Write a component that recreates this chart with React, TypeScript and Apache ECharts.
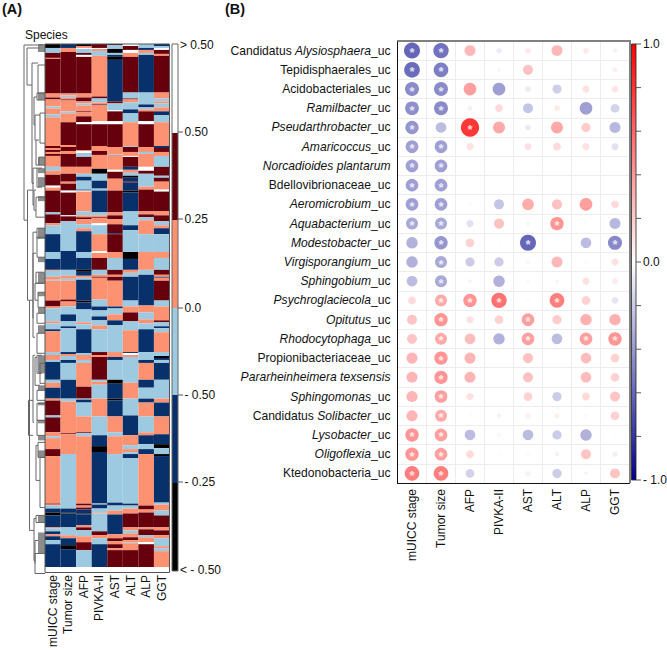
import React, { useEffect, useRef } from "react";
import * as echarts from "echarts";

const FONT = '"Liberation Sans", Arial, sans-serif';

// ---------- Panel A data ----------
const clinicalVars = ["mUICC stage", "Tumor size", "AFP", "PIVKA-II", "AST", "ALT", "ALP", "GGT"];
const levelColors: Record<string, string> = { K: "#000000", N: "#08306b", B: "#9ecae1", S: "#fc9272", M: "#67000d", W: "#ffffff" };
// each run: level letter + row where the run ends
const runsMuicc = "K48 B53 M58 S59 M94 S98 M100 S107 B109 S115 B118 S147 M149 S151 M153 S155 M157 S168 B172 S176 M187 W189 S192 M214 B216 M225 S227 B236 N254 B261 N272 S273 B279 S282 B283 S303 M309 S311 B324 S326 B332 N334 S355 B358 S363 B365 N383 B386 S391 N402 S404 M419 B421 M436 S440 B442 S453 M460 S508 M509 S510 B513 N517 K520 N532 S533 B536 N539 S541 N545 B549 N572";
const runsTumor = "N48 S52 M94 S96 B98 S100 M101 S112 B114 S123 M146 S148 M152 S155 M168 S175 M183 S185 M192 W194 M217 W218 M223 B253 N272 B278 S281 B283 S302 M304 S309 B317 N324 B329 N331 B355 N357 S359 B363 N366 B383 N402 B405 S437 M438 S458 B513 N517 K518 N532 B540 S543 N550 K554 N572";
const runsAfp = "K46 S48 W49 B53 M55 W57 M94 S98 M102 S104 B106 S112 M113 S117 M123 W125 M151 S152 W154 B158 M168 S175 B178 N182 B191 N192 W193 S213 B217 S219 M221 S226 B230 S233 N254 B260 N272 K274 N278 S280 B282 N303 K305 N312 B325 S327 B332 N356 B358 S363 B366 S390 M402 B403 N406 B420 S436 M437 B440 S508 M510 S512 M514 N518 K519 N530 S532 M535 B541 S547 M555 B572";
const runsPivka = "M48 W49 S51 B56 S97 M99 B103 S105 M106 S122 W125 M147 S152 M156 S170 K175 B182 N190 B192 N214 B217 S219 M220 S225 W227 B236 S253 W255 S260 M272 B277 S279 M280 S302 B309 N313 B319 N323 B328 S332 B355 M358 S360 M383 B385 S388 B402 S420 B439 N450 K456 N508 B509 N513 B517 S518 B536 M540 S543 B549 N572";
const runsAst = "M45 B49 K53 B55 N57 K60 N102 M104 B111 W112 M122 W125 M148 S155 B156 S171 W173 M180 S192 M214 S217 M221 S226 M235 N236 M254 S260 B272 M277 S279 M283 S309 N311 B317 S323 N328 B355 S360 N363 B383 K387 N402 K404 N420 S436 B440 S458 B507 N510 B515 S519 N539 S543 M546 S549 M553 S555 M572";
const runsAlt = "W46 M50 W53 S57 M93 B99 M100 S103 B110 N114 B123 S147 B148 M153 S157 W158 M168 N171 S174 B177 K179 N183 M184 N192 K194 N213 B227 N232 B254 K261 N272 S275 B279 N303 B309 S315 M324 B333 S355 N356 W358 S360 B386 S402 B419 N439 S449 B453 S456 B458 N462 B508 N510 B513 S518 M532 S535 B538 S542 M545 S547 B548 S555 M572";
const runsAlp = "B48 N50 S53 B55 N93 B105 N108 B110 S112 M122 W125 M148 S153 B155 S168 W172 M175 B188 S191 M213 S216 M219 B222 S236 B254 S272 B277 N308 S315 B322 S326 B332 N355 B363 N366 S383 N391 B402 N406 S420 B436 S439 N448 B453 N458 S510 M514 S517 M532 S534 M540 B542 S547 W549 M572";
const runsGgt = "N46 B48 W50 M54 S56 M93 S99 B102 S104 B108 S112 N116 B123 S147 N149 M153 S157 B168 M177 B179 M183 S191 W193 M213 S217 M223 B227 S230 N236 B254 S260 B272 M277 S279 N280 S283 M303 B309 S323 M325 B329 N331 B335 S355 B359 K361 N363 B366 N383 B402 S406 N420 S438 N448 K452 B458 K460 N507 B509 S515 B520 M532 S535 M540 S543 B551 S553 B556 S572";
const columnRuns = [runsMuicc, runsTumor, runsAfp, runsPivka, runsAst, runsAlt, runsAlp, runsGgt];
const FIRST_ROW = 44;
const LAST_ROW = 572;

// depth of bracket, top row, bottom row, depth of top child, depth of bottom child
const dendroBrackets = [
  [24, 45, 220, 43, 27.5],
  [27, 48, 85, 40, 32],
  [27.5, 190, 300, 33, 29.5],
  [32, 63, 183, 38, 34],
  [38, 65, 93, 45, 45],
  [34, 97, 125, 37, 35],
  [37, 93, 100, 45, 45],
  [35, 115, 140, 40, 36],
  [40, 113, 143, 45, 45],
  [36, 140, 165, 39, 39],
  [39, 157, 165, 45, 45],
  [33, 168, 205, 37, 34],
  [37, 168, 187, 42, 42],
  [34, 190, 210, 36, 36],
  [36, 197, 217, 45, 45],
  [33, 232, 318, 37, 33],
  [37, 228, 238, 45, 45],
  [37, 237, 257, 45, 45],
  [33, 253, 337, 36, 35],
  [36, 272, 283, 44, 44],
  [35, 283, 300, 45, 38],
  [38, 292, 307, 45, 45],
  [37, 313, 323, 45, 45],
  [37, 333, 353, 45, 45],
  [29.5, 300, 530, 33, 34],
  [33, 355, 422, 35, 34],
  [35, 357, 385, 37, 40],
  [37, 355, 373, 42, 42],
  [40, 363, 383, 45, 45],
  [37, 390, 400, 45, 45],
  [37, 403, 420, 45, 45],
  [37, 420, 435, 45, 45],
  [28.5, 400, 435, 33, 33],
  [38, 442, 457, 45, 45],
  [36, 445, 480, 38, 40],
  [40, 457, 507, 45, 45],
  [34, 518, 560, 36, 35],
  [36, 515, 522, 45, 45],
  [35, 540, 563, 38, 35],
  [35, 553, 573, 45, 45],
];
// row ranges where leaves are too tight to tell apart: start, end
const dendroDense = [
  [44, 52], [93, 100], [157, 165], [168, 173], [177, 187], [196, 201], [228, 238], [257, 262], [272, 283], [292, 296],
  [307, 313], [325, 333], [355, 373], [385, 390], [402, 405], [420, 423], [435, 440], [450, 457], [515, 522], [532, 553],
];

// ---------- Panel B data ----------
const speciesLabels = [
  "Candidatus {i|Alysiosphaera}_uc", "Tepidisphaerales_uc", "Acidobacteriales_uc", "{i|Ramilbacter}_uc",
  "{i|Pseudarthrobacter}_uc", "{i|Amaricoccus}_uc", "{i|Norcadioides plantarum}", "Bdellovibrionaceae_uc",
  "{i|Aeromicrobium}_uc", "{i|Aquabacterium}_uc", "{i|Modestobacter}_uc", "{i|Virgisporangium}_uc",
  "{i|Sphingobium}_uc", "{i|Psychroglaciecola}_uc", "{i|Opitutus}_uc", "{i|Rhodocytophaga}_uc",
  "Propionibacteriaceae_uc", "{i|Pararheinheimera texsensis}", "{i|Sphingomonas}_uc", "Candidatus {i|Solibacter}_uc",
  "{i|Lysobacter}_uc", "{i|Oligoflexia}_uc", "Ktedonobacteria_uc",
];
const correlations = [
  [-0.75, -0.69, 0.35, -0.09, 0.1, 0.35, 0.1, -0.06],
  [-0.72, -0.63, 0.005, -0.04, 0.3, 0.005, 0.005, 0.08],
  [-0.57, -0.57, 0.47, -0.47, -0.1, -0.24, 0.15, 0.13],
  [-0.55, -0.57, -0.07, 0.18, -0.29, 0.1, -0.47, -0.22],
  [-0.52, -0.33, 0.98, 0.42, -0.1, 0.42, 0.25, -0.35],
  [-0.47, -0.47, 0.15, 0.01, 0.15, 0.18, 0.15, -0.15],
  [-0.47, -0.47, 0.002, 0.002, 0.005, 0.005, 0.002, 0.002],
  [-0.47, -0.47, 0.002, 0.002, 0.005, 0.002, 0.002, 0.002],
  [-0.47, -0.47, 0.03, -0.29, 0.4, 0.3, 0.47, 0.18],
  [-0.42, -0.42, -0.15, 0.3, -0.05, 0.52, 0.03, -0.35],
  [-0.38, -0.52, 0.22, 0.03, -0.75, 0.002, -0.33, -0.58],
  [-0.38, -0.42, -0.25, -0.25, 0.05, 0.35, -0.03, 0.15],
  [-0.33, -0.42, -0.05, -0.38, -0.03, -0.05, 0.15, 0.1],
  [0.18, 0.42, 0.52, 0.69, 0.03, 0.63, 0.22, -0.13],
  [0.29, 0.52, 0.15, 0.22, 0.47, 0.25, 0.38, 0.38],
  [0.29, 0.42, 0.33, -0.38, 0.47, -0.33, 0.47, 0.52],
  [0.36, 0.52, 0.36, 0.02, 0.3, 0.02, 0.33, 0.22],
  [0.36, 0.52, 0.36, 0.02, 0.3, 0.01, 0.33, 0.22],
  [0.36, 0.47, 0.15, 0.02, 0.22, -0.25, 0.18, 0.29],
  [0.36, 0.42, 0.03, -0.06, 0.08, 0.08, -0.03, 0.22],
  [0.52, 0.47, -0.33, 0.05, -0.33, -0.25, -0.38, 0.03],
  [0.52, 0.47, 0.18, 0.03, -0.03, -0.06, 0.29, -0.08],
  [0.63, 0.63, -0.22, 0.01, 0.08, -0.25, -0.05, 0.29],
];
// significant cells: row -> columns holding a star
const significant = [
  [0, 1], [0, 1], [0, 1], [0, 1], [0, 2], [0, 1], [0, 1], [0, 1], [0, 1], [0, 1, 5], [1, 4, 7], [1], [1],
  [1, 2, 3, 5], [1, 4], [1, 4, 6, 7], [1], [1], [1], [1], [0, 1], [0, 1], [0, 1],
];

// ---------- Legend data ----------
const heatLegendBands = [
  { from: 44, to: 133, color: "#ffffff" },
  { from: 133, to: 220, color: "#67000d" },
  { from: 220, to: 308, color: "#fc9272" },
  { from: 308, to: 395, color: "#9ecae1" },
  { from: 395, to: 483, color: "#08306b" },
  { from: 483, to: 571, color: "#000000" },
];
const heatLegendLabels = [
  { y: 45, x: 180, text: "> 0.50", tick: false },
  { y: 132, x: 184.5, text: "0.50", tick: true },
  { y: 219, x: 184.5, text: "0.25", tick: true },
  { y: 308, x: 184.5, text: "0.0", tick: true },
  { y: 395, x: 184.5, text: "- 0.50", tick: true },
  { y: 482, x: 184.5, text: "- 0.25", tick: true },
  { y: 570, x: 180, text: "< - 0.50", tick: false },
];
const corrLegendTicks = [44, 87.6, 131.2, 174.8, 218.4, 262, 305.6, 349.2, 392.8, 436.4, 480];
const corrLegendLabels = [
  { y: 44, text: "1.0" },
  { y: 262, text: "0.0" },
  { y: 480, text: "- 1.0" },
];

function buildHeatRuns() {
  const out: any[] = [];
  columnRuns.forEach((str, col) => {
    let start = FIRST_ROW;
    str.split(" ").forEach((tok) => {
      const end = Number(tok.slice(1));
      out.push([col, start, end, tok[0]]);
      start = end;
    });
  });
  return out;
}

function buildCorrData() {
  const out: any[] = [];
  correlations.forEach((row, r) => {
    row.forEach((v, c) => {
      const star = significant[r].includes(c);
      out.push({ value: [c, r, v], label: { show: star } });
    });
  });
  return out;
}

function txt(x: number, y: number, text: string, fontSize = 12, extra: any = {}) {
  return {
    type: "text",
    x,
    y,
    z: 100,
    style: { text, fontSize, fontFamily: FONT, fill: "#111", verticalAlign: "middle", ...extra },
  };
}
function seg(x1: number, y1: number, x2: number, y2: number, stroke = "#666", lineWidth = 1) {
  return { type: "line", z: 100, shape: { x1, y1, x2, y2 }, style: { stroke, lineWidth } };
}

function buildGraphics() {
  const g: any[] = [
    txt(2, 9, "(A)", 14.5, { fontWeight: "bold" }),
    txt(225, 9, "(B)", 14.5, { fontWeight: "bold" }),
    txt(25, 35, "Species", 12),
    // heatmap frame
    { type: "rect", z: 100, shape: { x: 45, y: 44, width: 124.5, height: 528.5 }, style: { fill: "none", stroke: "#555", lineWidth: 1 } },
    // correlation frame
    seg(397.5, 41, 630, 41, "#808080", 2),
    seg(630, 40, 630, 483, "#808080", 2),
  ];
  heatLegendBands.forEach((b) => {
    g.push({ type: "rect", z: 99, shape: { x: 172, y: b.from, width: 6, height: b.to - b.from }, style: { fill: b.color } });
  });
  g.push({ type: "rect", z: 100, shape: { x: 172, y: 44, width: 6, height: 527 }, style: { fill: "none", stroke: "#666", lineWidth: 1 } });
  heatLegendLabels.forEach((l) => {
    if (l.tick) g.push(seg(178, l.y, 183, l.y, "#555"));
    g.push(txt(l.x, l.y, l.text, 12));
  });
  // correlation colour bar
  g.push({
    type: "rect",
    z: 99,
    shape: { x: 631.5, y: 44, width: 4.5, height: 436 },
    style: {
      fill: new echarts.graphic.LinearGradient(0, 0, 0, 1, [
        { offset: 0, color: "#ff0000" },
        { offset: 0.5, color: "#ffffff" },
        { offset: 1, color: "#00008b" },
      ]),
      stroke: "#222",
      lineWidth: 0.8,
    },
  });
  corrLegendTicks.forEach((y) => g.push(seg(636, y, 641, y, "#555")));
  corrLegendLabels.forEach((l) => g.push(txt(643, l.y, l.text, 12)));
  return g;
}

function buildOption(): any {
  return {
    animation: false,
    backgroundColor: "#ffffff",
    textStyle: { fontFamily: FONT },
    graphic: { elements: buildGraphics() },
    grid: [
      { left: 45, top: 44, width: 124.5, height: 528.5 },
      { left: 20, top: 44, width: 25, height: 528.5 },
      { left: 397.5, top: 41, width: 232, height: 442 },
    ],
    xAxis: [
      {
        gridIndex: 0,
        type: "category",
        data: clinicalVars,
        axisLine: { show: false },
        axisTick: { show: false },
        axisLabel: { rotate: 90, margin: 8, fontSize: 12, color: "#111", fontFamily: FONT, interval: 0 },
      },
      { gridIndex: 1, type: "value", min: 20, max: 45, show: false },
      {
        gridIndex: 2,
        type: "category",
        data: clinicalVars,
        axisLine: { show: true, lineStyle: { color: "#111", width: 1 } },
        axisTick: { show: false },
        splitLine: { show: true, interval: 0, lineStyle: { color: "#ececec", width: 1 } },
        axisLabel: { rotate: 90, margin: 6, fontSize: 12, color: "#111", fontFamily: FONT, interval: 0 },
      },
    ],
    yAxis: [
      { gridIndex: 0, type: "value", min: FIRST_ROW, max: LAST_ROW, inverse: true, show: false },
      { gridIndex: 1, type: "value", min: FIRST_ROW, max: LAST_ROW, inverse: true, show: false },
      {
        gridIndex: 2,
        type: "category",
        inverse: true,
        data: speciesLabels,
        axisLine: { show: true, lineStyle: { color: "#111", width: 1 } },
        axisTick: { show: false },
        splitLine: { show: true, interval: 0, lineStyle: { color: "#ececec", width: 1 } },
        axisLabel: {
          margin: 7,
          fontSize: 12.1,
          color: "#111",
          fontFamily: FONT,
          interval: 0,
          rich: { i: { fontStyle: "italic", fontSize: 12.1, color: "#111", fontFamily: FONT } },
        },
      },
    ],
    visualMap: {
      show: false,
      type: "continuous",
      seriesIndex: 3,
      dimension: 2,
      min: -1,
      max: 1,
      inRange: { color: ["#00008b", "#ffffff", "#ff0000"] },
    },
    series: [
      {
        type: "custom",
        xAxisIndex: 0,
        yAxisIndex: 0,
        data: buildHeatRuns(),
        encode: { x: 0, y: [1, 2] },
        renderItem: (_p: any, api: any) => {
          const col = api.value(0);
          const top = api.coord([col, api.value(1)]);
          const bottom = api.coord([col, api.value(2)]);
          const w = api.size([1, 0])[0];
          return {
            type: "rect",
            shape: { x: top[0] - w / 2, y: top[1], width: w, height: bottom[1] - top[1] },
            style: { fill: levelColors[api.value(3)] },
          };
        },
      },
      {
        type: "custom",
        xAxisIndex: 1,
        yAxisIndex: 1,
        data: dendroDense,
        encode: { y: [0, 1] },
        renderItem: (_p: any, api: any) => {
          const a = api.coord([38, api.value(0)]);
          const c = api.coord([45, api.value(1)]);
          return {
            type: "rect",
            shape: { x: a[0], y: a[1], width: c[0] - a[0], height: c[1] - a[1] },
            style: { fill: "#8c8c8c" },
          };
        },
      },
      {
        type: "custom",
        xAxisIndex: 1,
        yAxisIndex: 1,
        data: dendroBrackets,
        encode: { x: [0, 3, 4], y: [1, 2] },
        renderItem: (_p: any, api: any) => {
          const d = api.value(0), t = api.value(1), b = api.value(2), xa = api.value(3), xb = api.value(4);
          return {
            type: "polyline",
            shape: { points: [api.coord([xa, t]), api.coord([d, t]), api.coord([d, b]), api.coord([xb, b])] },
            style: { stroke: "#666", fill: "none", lineWidth: 1 },
          };
        },
      },
      {
        type: "scatter",
        xAxisIndex: 2,
        yAxisIndex: 2,
        data: buildCorrData(),
        symbol: "circle",
        symbolSize: (val: number[]) => 18.5 * Math.sqrt(Math.abs(val[2])),
        label: {
          show: false,
          position: "inside",
          formatter: "*",
          color: "#ffffff",
          fontSize: 13,
          fontWeight: "bold",
          fontFamily: FONT,
          offset: [0, 2],
        },
        z: 5,
      },
    ],
  };
}

export default function App() {
  const ref = useRef<HTMLDivElement>(null);
  useEffect(() => {
    const chart = echarts.init(ref.current!, null, { renderer: "svg" });
    chart.setOption(buildOption());
    return () => chart.dispose();
  }, []);
  return <div ref={ref} style={{ position: "absolute", left: 0, top: 0, width: 667, height: 650 }} />;
}
